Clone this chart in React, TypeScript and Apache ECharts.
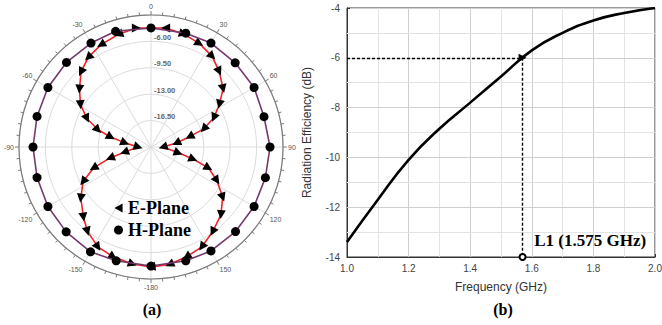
import { useEffect, useRef } from 'react';
import * as echarts from 'echarts';

// ---------- Data: (a) radiation pattern (dB) ----------
const hPlaneAngles = [-180, -163, -150, -135, -120, -105, -90, -75, -60, -45, -30, -17, 0, 17, 30, 45, 60, 75, 90, 105, 120, 135, 150, 163];
const hPlaneValues = [-4.22, -4.22, -3.96, -4.09, -4.22, -4.36, -4.36, -4.36, -4.22, -4.15, -4.09, -3.96, -4.22, -4.22, -4.09, -4.22, -4.22, -4.49, -4.22, -4.3, -4.22, -4.15, -4.09, -4.22];

const ePlaneAngles = [-171, -161, -152, -143, -136, -126, -117, -110, -105, -101, -90, -81, -76, -72, -66, -59, -51, -43, -35, -26, -16, -7, 7, 16, 25, 34, 42, 51, 58, 65, 71, 75, 81, 90, 102, 106, 110, 117, 125, 134, 144, 153, 162, 171, 180];
const ePlaneValues = [-4.3, -4.6, -5.0, -6.0, -7.1, -8.5, -9.9, -11.9, -14.4, -16.4, -18.3, -16.5, -14.5, -12.6, -10.7, -9.1, -7.8, -6.4, -5.5, -4.9, -4.45, -4.1, -4.1, -4.4, -4.85, -5.5, -6.5, -7.7, -9.3, -10.8, -12.6, -14.7, -16.6, -18.4, -16.3, -14.2, -11.9, -10.2, -8.4, -7.1, -6.1, -5.15, -4.7, -4.25, -4.1];

const radialMin = -20;
const radialMax = -2.5;
const radialStep = 3.5;
const angleTickStep = 30;

// ---------- Data: (b) radiation efficiency ----------
const frequencyGHz = [1.0, 1.1, 1.2, 1.3, 1.4, 1.5, 1.6, 1.7, 1.8, 1.9, 2.0];
const efficiencyDb = [-13.4, -11.7, -10.1, -8.85, -7.8, -6.75, -5.7, -5.0, -4.5, -4.2, -4.0];
const freqMin = 1.0;
const freqMax = 2.0;
const freqMinorStep = 0.1;
const effMin = -14;
const effMax = -4;
const effMinorStep = 1;
const freqGridTicks = [1.1, 1.2, 1.3, 1.4, 1.5, 1.6, 1.7, 1.8, 1.9];
const effGridTicks = [-13, -12, -11, -10, -9, -8, -7, -6, -5];
const l1Freq = 1.57;
const l1Eff = -6;
const l1Text = 'L1 (1.575 GHz)';
const l1LabelAnchor = [1.59, -13.35];

const sans = '"Liberation Sans", Arial, sans-serif';
const serif = '"Liberation Serif", "Times New Roman", serif';

const toR = (db: number) => db - radialMin;
const toA = (deg: number) => (deg < 0 ? deg + 360 : deg);

function buildEPlaneData() {
  const pts = ePlaneAngles.map((a, i) => {
    const r = toR(ePlaneValues[i]);
    const t = (a * Math.PI) / 180;
    return { x: r * Math.sin(t), y: r * Math.cos(t) };
  });
  const items: any[] = ePlaneAngles.map((a, i) => {
    const prev = a >= 0 ? i - 1 : i + 1;
    let dx = 0;
    let dy = 0;
    if (prev >= 0 && prev < pts.length) {
      const otherSide = (ePlaneAngles[prev] >= 0) !== (a >= 0);
      if (otherSide) {
        dx = pts[prev].x - pts[i].x;
        dy = pts[prev].y - pts[i].y;
      } else {
        dx = pts[i].x - pts[prev].x;
        dy = pts[i].y - pts[prev].y;
      }
    }
    const rot = (Math.atan2(dy, dx) * 180) / Math.PI - 90;
    return { value: [toR(ePlaneValues[i]), toA(a)], symbolRotate: rot };
  });
  items.push({ value: [toR(ePlaneValues[0]), toA(ePlaneAngles[0])], symbol: 'none' });
  return items;
}

function buildHPlaneData() {
  const items: any[] = hPlaneAngles.map((a, i) => ({ value: [toR(hPlaneValues[i]), toA(a)] }));
  items.push({ value: [toR(hPlaneValues[0]), toA(hPlaneAngles[0])], symbol: 'none' });
  return items;
}

const majorGrid = '#cfcfcf';
const minorGrid = '#e3e3e3';
const gridColors = [majorGrid, minorGrid];

function buildGridLines() {
  const xs = freqGridTicks.map((v) => ({
    xAxis: v,
    lineStyle: { color: Math.round(v * 10) % 2 === 0 ? majorGrid : minorGrid, width: 1, type: 'solid' },
  }));
  const ys = effGridTicks.map((v) => ({
    yAxis: v,
    lineStyle: { color: Math.round(v) % 2 === 0 ? majorGrid : minorGrid, width: 1, type: 'solid' },
  }));
  return [...xs, ...ys];
}

export default function App() {
  const leftRef = useRef<HTMLDivElement>(null);
  const rightRef = useRef<HTMLDivElement>(null);

  useEffect(() => {
    document.body.style.margin = '0';
    if (!leftRef.current || !rightRef.current) return;
    const polarChart = echarts.init(leftRef.current, undefined, { renderer: 'svg' });
    const lineChart = echarts.init(rightRef.current, undefined, { renderer: 'svg' });
    const span = radialMax - radialMin;

    const polarOption: any = {
      animation: false,
      backgroundColor: '#ffffff',
      polar: { center: [151, 147], radius: 132 },
      angleAxis: {
        type: 'value',
        min: 0,
        max: 360,
        interval: angleTickStep,
        startAngle: 90,
        clockwise: true,
        axisLine: { show: true, lineStyle: { color: '#7a7a7a', width: 1.2 } },
        axisTick: { show: true, length: 4, lineStyle: { color: '#7a7a7a' } },
        minorTick: { show: true, splitNumber: 6, length: 3, lineStyle: { color: '#7a7a7a' } },
        axisLabel: {
          margin: 5,
          fontSize: 7,
          color: '#555',
          fontFamily: sans,
          formatter: (v: number) => {
            if (v >= 360) return '';
            if (v === 180) return '-180';
            return v > 180 ? String(v - 360) : String(v);
          },
        },
        splitLine: { show: true, lineStyle: { color: '#dcdcdc', width: 1 } },
      },
      radiusAxis: {
        type: 'value',
        min: 0,
        max: span,
        interval: radialStep,
        axisLine: { show: false },
        axisTick: { show: false },
        axisLabel: {
          margin: -3,
          align: 'left',
          verticalAlign: 'bottom',
          fontSize: 7.5,
          fontWeight: 'bold',
          color: '#666',
          fontFamily: sans,
          formatter: (v: number) => (v <= 1e-6 || v >= span - 1e-6 ? '' : (v + radialMin).toFixed(2)),
        },
        splitLine: { show: true, lineStyle: { color: '#dcdcdc', width: 1 } },
      },
      legend: {
        orient: 'vertical',
        left: 109,
        top: 194,
        itemGap: 4,
        itemWidth: 9,
        itemHeight: 9,
        selectedMode: false,
        textStyle: { fontFamily: serif, fontWeight: 'bold', fontSize: 18, color: '#000' },
        data: [
          { name: 'E-Plane', icon: 'path://M0,5L9,0L9,10Z', itemStyle: { color: '#000' } },
          { name: 'H-Plane', icon: 'circle', itemStyle: { color: '#000' } },
        ],
      },
      series: [
        {
          name: 'E-Plane',
          type: 'line',
          coordinateSystem: 'polar',
          data: buildEPlaneData(),
          symbol: 'triangle',
          symbolSize: 9,
          showSymbol: true,
          showAllSymbol: true,
          itemStyle: { color: '#000' },
          lineStyle: { color: '#e8262b', width: 1.6 },
          z: 3,
        },
        {
          name: 'H-Plane',
          type: 'line',
          coordinateSystem: 'polar',
          data: buildHPlaneData(),
          symbol: 'circle',
          symbolSize: 9,
          showSymbol: true,
          showAllSymbol: true,
          itemStyle: { color: '#000' },
          lineStyle: { color: '#74386c', width: 1.6 },
          z: 4,
        },
      ],
      graphic: [
        {
          type: 'text',
          x: 152,
          y: 309,
          style: { text: '(a)', fontFamily: serif, fontWeight: 'bold', fontSize: 16, fill: '#000', align: 'center', verticalAlign: 'middle' },
        },
      ],
    };

    const lineOption: any = {
      animation: false,
      grid: {
        left: 47,
        right: 7,
        top: 8,
        bottom: 68,
        outerBoundsMode: 'none',
        show: true,
        borderColor: '#333',
        borderWidth: 1,
        backgroundColor: 'transparent',
      },
      xAxis: {
        type: 'value',
        min: freqMin,
        max: freqMax,
        interval: freqMinorStep,
        axisLine: { show: true, lineStyle: { color: '#333' } },
        axisTick: { show: true, inside: true, length: 3, lineStyle: { color: '#333' } },
        splitLine: { show: true, lineStyle: { color: gridColors } },
        axisLabel: {
          margin: 6,
          fontSize: 10,
          color: '#444',
          fontFamily: sans,
          formatter: (v: number) => (Math.round(v * 10) % 2 === 0 ? v.toFixed(1) : ''),
        },
        name: 'Frequency (GHz)',
        nameLocation: 'middle',
        nameGap: 24,
        nameTextStyle: { fontSize: 12, color: '#333', fontFamily: sans },
      },
      yAxis: {
        type: 'value',
        min: effMin,
        max: effMax,
        interval: effMinorStep,
        axisLine: { show: true, lineStyle: { color: '#333' } },
        axisTick: { show: true, inside: true, length: 3, lineStyle: { color: '#333' } },
        splitLine: { show: true, lineStyle: { color: gridColors } },
        axisLabel: {
          margin: 7,
          fontSize: 10,
          color: '#444',
          fontFamily: sans,
          formatter: (v: number) => (Math.round(v) % 2 === 0 ? String(v) : ''),
        },
        name: 'Radiation Efficiency (dB)',
        nameLocation: 'middle',
        nameGap: 34,
        nameTextStyle: { fontSize: 12, color: '#333', fontFamily: sans },
      },
      series: [
        {
          name: 'grid-lines',
          type: 'line',
          data: frequencyGHz.map((f, i) => [f, efficiencyDb[i]]),
          symbol: 'none',
          silent: true,
          lineStyle: { width: 0, opacity: 0 },
          z: 1,
          markLine: {
            silent: true,
            animation: false,
            symbol: ['none', 'none'],
            label: { show: false },
            lineStyle: { width: 1, type: 'solid', color: minorGrid },
            data: buildGridLines(),
          },
        },
        {
          name: 'Radiation Efficiency',
          type: 'line',
          data: frequencyGHz.map((f, i) => [f, efficiencyDb[i]]),
          smooth: true,
          symbol: 'none',
          lineStyle: { color: '#000', width: 2.6 },
          z: 5,
          markLine: {
            silent: true,
            animation: false,
            label: { show: false },
            lineStyle: { color: '#000', type: [3, 2], width: 1.4 },
            data: [
              [
                { coord: [freqMin, l1Eff], symbol: 'none' },
                { coord: [l1Freq, l1Eff], symbol: 'triangle', symbolSize: 8 },
              ],
              [
                { coord: [l1Freq, l1Eff], symbol: 'none' },
                { coord: [l1Freq, effMin], symbol: 'emptyCircle', symbolSize: 6 },
              ],
            ],
          },
          markPoint: {
            silent: true,
            animation: false,
            symbol: 'circle',
            symbolSize: 1,
            itemStyle: { color: 'rgba(0,0,0,0)' },
            label: {
              show: true,
              position: 'right',
              distance: 5,
              formatter: l1Text,
              fontFamily: serif,
              fontWeight: 'bold',
              fontSize: 17,
              color: '#000',
            },
            data: [{ coord: l1LabelAnchor }],
          },
        },
      ],
      graphic: [
        {
          type: 'text',
          x: 203,
          y: 309,
          style: { text: '(b)', fontFamily: serif, fontWeight: 'bold', fontSize: 16, fill: '#000', align: 'center', verticalAlign: 'middle' },
        },
      ],
    };

    polarChart.setOption(polarOption);
    lineChart.setOption(lineOption);
    return () => {
      polarChart.dispose();
      lineChart.dispose();
    };
  }, []);

  return (
    <div style={{ position: 'relative', width: 662, height: 325, background: '#fff' }}>
      <div ref={leftRef} style={{ position: 'absolute', left: 0, top: 0, width: 300, height: 325 }} />
      <div ref={rightRef} style={{ position: 'absolute', left: 300, top: 0, width: 362, height: 325 }} />
    </div>
  );
}
